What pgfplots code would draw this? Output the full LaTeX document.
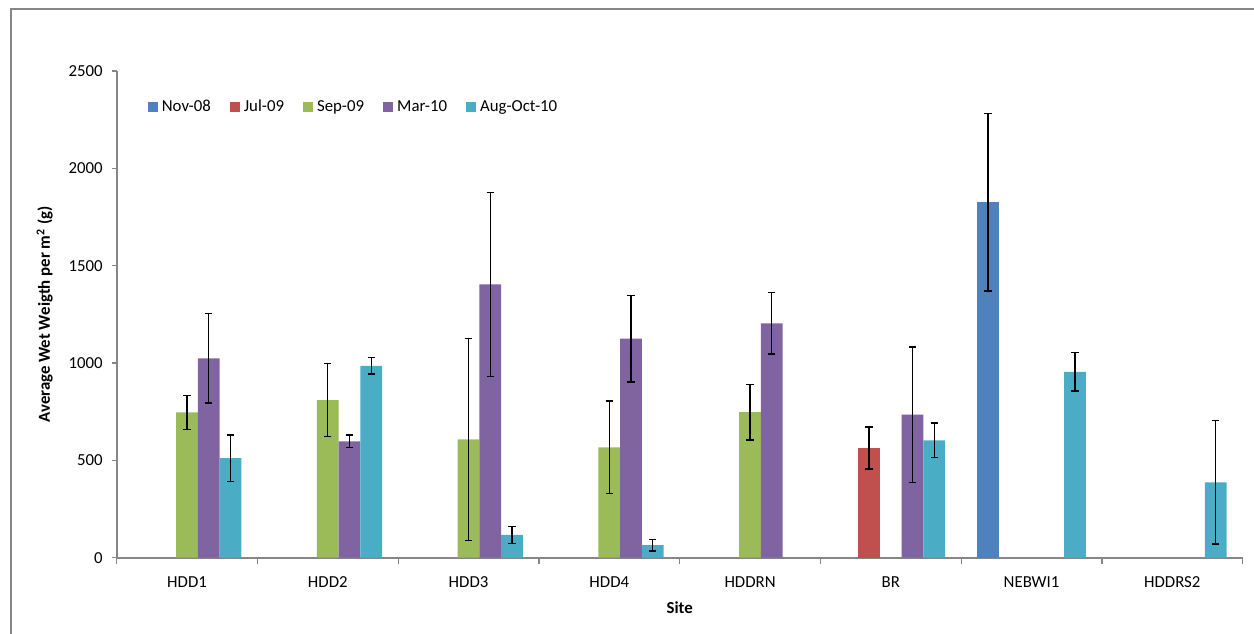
\documentclass[border=0pt]{standalone}
\usepackage{fontspec}
\setmainfont{Carlito}
\usepackage{pgfplots}
\pgfplotsset{compat=1.18}
\definecolor{cNov}{HTML}{4F81BD}
\definecolor{cJul}{HTML}{C0504D}
\definecolor{cSep}{HTML}{9BBB59}
\definecolor{cMar}{HTML}{8064A2}
\definecolor{cAug}{HTML}{4BACC6}
\definecolor{axgray}{HTML}{868686}
\newcommand\cf{\fontsize{8.4pt}{10pt}\selectfont}
\begin{document}
\begin{tikzpicture}
\path[use as bounding box] (0,0) rectangle (627pt,316.5pt);
\draw[axgray, line width=0.6pt] (5.5pt,-2pt) -- (5.5pt,312pt) -- (630pt,312pt);
\begin{axis}[
  at={(58.35pt,37.65pt)}, anchor=south west,
  scale only axis, width=563pt, height=243.35pt,
  ybar=0pt, bar width=10.875pt,
  xmin=-0.5, xmax=7.5, ymin=0, ymax=2500,
  axis x line*=bottom, axis y line*=left,
  axis line style={axgray, line width=0.8pt, -},
  xtick={0,...,7},
  xticklabels={HDD1,HDD2,HDD3,HDD4,HDDRN,BR,NEBWI1,HDDRS2},
  major x tick style={draw=none},
  minor xtick={-0.5,0.5,...,7.5},
  minor x tick style={axgray, line width=0.6pt},
  minor tick length=3pt,
  ytick={0,500,1000,1500,2000,2500},
  major y tick style={axgray, line width=0.6pt},
  major tick length=2.5pt,
  tick align=outside,
  /pgf/number format/assume math mode=true,
  /pgf/number format/1000 sep={},
  tick label style={font=\cf, black},
  xticklabel style={yshift=-3.5pt},
  yticklabel style={xshift=-1pt},
  xlabel={\textbf{Site}},
  ylabel={\textbf{Average Wet Weigth per m\textsuperscript{2} (g)}},
  label style={font=\cf},
  xlabel style={at={(axis description cs:0.5,-0.1027)}, anchor=center},
  ylabel style={at={(axis description cs:-0.064,0.5)}, anchor=center},
  legend columns=5,
  legend style={at={(0.022,0.958)}, anchor=north west, draw=none, fill=none, font=\cf,
    /tikz/every even column/.append style={column sep=7.5pt}},
  legend image code/.code={\fill[#1] (0pt,-2.5pt) rectangle (5pt,2.5pt);},
  error bars/y dir=both, error bars/y explicit,
  error bars/error bar style={black, line width=0.65pt},
  error bars/error mark options={rotate=90, black, mark size=1.8pt, line width=0.65pt},
]
\addplot[fill=cNov, draw=none] coordinates {(6,1826) +- (0,456)};
\addplot[fill=cJul, draw=none] coordinates {(5,563) +- (0,108)};
\addplot[fill=cSep, draw=none] coordinates {
  (0,747) +- (0,87) (1,810) +- (0,189) (2,608) +- (0,518) (3,567) +- (0,238) (4,748) +- (0,143)};
\addplot[fill=cMar, draw=none] coordinates {
  (0,1024) +- (0,230) (1,598) +- (0,32) (2,1404) +- (0,473) (3,1125) +- (0,223) (4,1204) +- (0,157) (5,735) +- (0,347)};
\addplot[fill=cAug, draw=none] coordinates {
  (0,511) +- (0,120) (1,985) +- (0,42) (2,117) +- (0,43) (3,65) +- (0,30) (5,603) +- (0,89) (6,955) +- (0,98) (7,387) +- (0,316)};
\legend{Nov-08,Jul-09,Sep-09,Mar-10,Aug-Oct-10}
\end{axis}
\end{tikzpicture}
\end{document}
